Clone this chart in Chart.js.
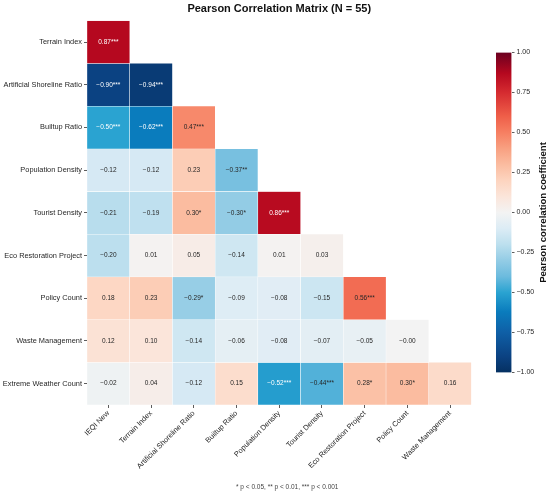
<!DOCTYPE html>
<html>
<head>
<meta charset="utf-8">
<script src="https://cdn.jsdelivr.net/npm/chart.js@4.4.1/dist/chart.umd.min.js"></script>
<style>
  body { margin: 0; background: #fff; }
  #wrap { position: relative; width: 550px; height: 496px; }
  #wrap canvas { position: absolute; left: 0; top: 0; }
</style>
</head>
<body>
<div id="wrap">
  <canvas id="matrix" width="550" height="496"></canvas>
  <canvas id="colorbar" width="550" height="496"></canvas>
</div>
<script>
const columns = ["IEQI New", "Terrain Index", "Artificial Shoreline Ratio", "Builtup Ratio",
  "Population Density", "Tourist Density", "Eco Restoration Project", "Policy Count", "Waste Management"];
const rows = ["Terrain Index", "Artificial Shoreline Ratio", "Builtup Ratio", "Population Density",
  "Tourist Density", "Eco Restoration Project", "Policy Count", "Waste Management", "Extreme Weather Count"];

// lower triangle, row r holds columns 0..r
const values = [
  [0.87],
  [-0.90, -0.94],
  [-0.50, -0.62, 0.47],
  [-0.12, -0.12, 0.23, -0.37],
  [-0.21, -0.19, 0.30, -0.30, 0.86],
  [-0.20, 0.01, 0.05, -0.14, 0.01, 0.03],
  [0.18, 0.23, -0.29, -0.09, -0.08, -0.15, 0.56],
  [0.12, 0.10, -0.14, -0.06, -0.08, -0.07, -0.05, -0.00],
  [-0.02, 0.04, -0.12, 0.15, -0.52, -0.44, 0.28, 0.30, 0.16]
];
const stars = [
  ["***"],
  ["***", "***"],
  ["***", "***", "***"],
  ["", "", "", "**"],
  ["", "", "*", "*", "***"],
  ["", "", "", "", "", ""],
  ["", "", "*", "", "", "", "***"],
  ["", "", "", "", "", "", "", ""],
  ["", "", "", "", "***", "***", "*", "*", ""]
];
const footnote = "* p < 0.05, ** p < 0.01, *** p < 0.001";

const cmapStops = [
  [-1.00, "#053061"], [-0.90, "#0b4282"], [-0.75, "#0f5fa6"], [-0.62, "#0a7cbd"],
  [-0.50, "#2aa3d1"], [-0.40, "#6cbbde"], [-0.30, "#93cce5"], [-0.20, "#bcdfee"],
  [-0.10, "#dcecf5"], [0.00, "#f3f3f3"], [0.10, "#fbe5da"], [0.20, "#fdd4bf"],
  [0.30, "#fbbca0"], [0.40, "#f8a081"], [0.50, "#f67f62"], [0.60, "#ef5f49"],
  [0.75, "#d52b30"], [0.87, "#b5081f"], [1.00, "#6b0020"]
];

function hex2rgb(h) {
  return [parseInt(h.slice(1, 3), 16), parseInt(h.slice(3, 5), 16), parseInt(h.slice(5, 7), 16)];
}

function colorFor(v) {
  for (let i = 1; i < cmapStops.length; i++) {
    const [v1, c1] = cmapStops[i];
    if (v <= v1) {
      const [v0, c0] = cmapStops[i - 1];
      const t = (v - v0) / (v1 - v0);
      const a = hex2rgb(c0), b = hex2rgb(c1);
      const m = a.map((x, k) => Math.round(x + (b[k] - x) * t));
      return `rgb(${m[0]},${m[1]},${m[2]})`;
    }
  }
  return cmapStops[cmapStops.length - 1][1];
}

function fmt(v) {
  const neg = v < 0 || Object.is(v, -0);
  return (neg ? "\u2212" : "") + Math.abs(v).toFixed(2);
}

function textColor(v) {
  return (v <= -0.48 || v >= 0.6) ? "#ffffff" : "#262626";
}

Chart.defaults.font.family = '"Liberation Sans", Arial, sans-serif';
Chart.defaults.color = "#262626";

const datasets = rows.map((row, r) => ({
  label: row,
  data: columns.map((col, c) => c <= r ? [r, r + 1] : null),
  backgroundColor: columns.map((col, c) => c <= r ? colorFor(values[r][c]) : "rgba(0,0,0,0)"),
  borderColor: "#ffffff",
  borderWidth: 0.5,
  borderSkipped: false,
  grouped: false,
  barPercentage: 1,
  categoryPercentage: 1
}));

const cellLabels = {
  id: "cellLabels",
  afterDatasetsDraw(chart) {
    const ctx = chart.ctx;
    ctx.save();
    ctx.font = '6.5px "Liberation Sans", Arial, sans-serif';
    ctx.textAlign = "center";
    ctx.textBaseline = "middle";
    rows.forEach((row, r) => {
      chart.getDatasetMeta(r).data.forEach((el, c) => {
        if (c > r) return;
        const v = values[r][c];
        ctx.fillStyle = textColor(v);
        ctx.fillText(fmt(v) + stars[r][c], el.x, (el.y + el.base) / 2);
      });
    });
    ctx.restore();
  }
};

const footnotePlugin = {
  id: "footnote",
  afterDraw(chart) {
    const ctx = chart.ctx;
    ctx.save();
    ctx.font = '6.5px "Liberation Sans", Arial, sans-serif';
    ctx.fillStyle = "#444444";
    ctx.textAlign = "center";
    ctx.textBaseline = "middle";
    ctx.fillText(footnote, (chart.chartArea.left + chart.chartArea.right) / 2 + 8, 487.5);
    ctx.restore();
  }
};

const tickFont = { size: 7.4 };

new Chart(document.getElementById("matrix"), {
  type: "bar",
  data: { labels: columns, datasets: datasets },
  options: {
    responsive: false,
    animation: false,
    layout: { padding: { left: 0, right: 78.5, top: 0, bottom: 0 } },
    plugins: {
      legend: { display: false },
      tooltip: { enabled: false },
      title: {
        display: true,
        text: "Pearson Correlation Matrix (N = 55)",
        fullSize: false,
        color: "#111111",
        font: { size: 11, weight: "bold" },
        padding: { top: 2.5, bottom: 5 }
      }
    },
    scales: {
      x: {
        type: "category",
        offset: true,
        grid: { display: true, drawOnChartArea: false, offset: false, tickLength: 3, color: "#333", lineWidth: 0.8 },
        border: { display: false },
        ticks: { maxRotation: 45, minRotation: 45, autoSkip: false, font: tickFont, padding: 1 },
        afterFit(s) { s.height = 91; }
      },
      y: {
        type: "linear",
        min: 0,
        max: 9,
        reverse: true,
        afterBuildTicks(s) { s.ticks = rows.map((row, i) => ({ value: i + 0.5 })); },
        grid: { display: true, drawOnChartArea: false, tickLength: 3, color: "#333", lineWidth: 0.8 },
        border: { display: false },
        ticks: { autoSkip: false, font: tickFont, padding: 2, callback: v => rows[Math.floor(v)] },
        afterFit(s) { s.width = 87; }
      }
    }
  },
  plugins: [cellLabels, footnotePlugin]
});

function barGradient(chart) {
  const area = chart.chartArea;
  if (!area) return colorFor(0);
  const g = chart.ctx.createLinearGradient(0, area.bottom, 0, area.top);
  cmapStops.forEach(([v, c]) => g.addColorStop((v + 1) / 2, c));
  return g;
}

const cbLabel = {
  id: "cbLabel",
  afterDraw(chart) {
    const ctx = chart.ctx;
    const a = chart.chartArea;
    ctx.save();
    ctx.translate(chart.scales.y.right - 7, (a.top + a.bottom) / 2);
    ctx.rotate(-Math.PI / 2);
    ctx.font = 'bold 9.6px "Liberation Sans", Arial, sans-serif';
    ctx.fillStyle = "#111111";
    ctx.textAlign = "center";
    ctx.textBaseline = "middle";
    ctx.fillText("Pearson correlation coefficient", 0, 0);
    ctx.restore();
  }
};

new Chart(document.getElementById("colorbar"), {
  type: "bar",
  data: {
    labels: [""],
    datasets: [{
      data: [[-1, 1]],
      backgroundColor: ctx => barGradient(ctx.chart),
      borderWidth: 0,
      barPercentage: 1,
      categoryPercentage: 1
    }]
  },
  options: {
    responsive: false,
    animation: false,
    events: [],
    layout: { padding: { left: 496, right: 0, top: 52.5, bottom: 123.5 } },
    plugins: { legend: { display: false }, tooltip: { enabled: false } },
    scales: {
      x: { display: false },
      y: {
        position: "right",
        min: -1,
        max: 1,
        grid: { display: true, drawOnChartArea: false, tickLength: 3, color: "#333", lineWidth: 0.8 },
        border: { display: false },
        ticks: { stepSize: 0.25, font: { size: 7 }, padding: 2, callback: v => fmt(v) },
        afterFit(s) { s.width = 38.5; }
      }
    }
  },
  plugins: [cbLabel]
});
</script>
</body>
</html>
